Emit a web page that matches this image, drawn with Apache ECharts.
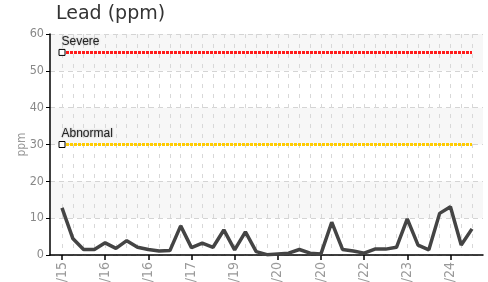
<!DOCTYPE html>
<html>
<head>
<meta charset="utf-8">
<script src="https://cdn.jsdelivr.net/npm/echarts@6/dist/echarts.min.js"></script>
<style>
  html, body { margin: 0; padding: 0; background: #fff; }
  #main { width: 488px; height: 282px; }
</style>
</head>
<body>
<div id="main"></div>
<script>
// sample dates (only the year end of each label is visible in the chart)
var dates = ['06/10/15', '09/14/15', '11/20/15', '01/18/16', '03/22/16', '06/15/16', '08/10/16', '10/05/16',
    '12/12/16', '02/14/17', '04/20/17', '07/11/17', '10/03/17', '02/15/18', '07/19/18', '12/04/18',
    '04/16/19', '08/27/19', '11/12/19', '01/21/20', '03/10/20', '06/02/20', '08/18/20', '10/13/20',
    '12/08/20', '03/16/21', '07/13/21', '11/09/21', '03/15/22', '07/12/22', '10/11/22', '01/17/23',
    '04/11/23', '07/18/23', '10/17/23', '01/16/24', '04/09/24', '07/16/24', '10/15/24'];
var lead = [12.8, 4.5, 1.5, 1.5, 3.3, 1.8, 3.9, 2.1, 1.5, 1.1, 1.2, 7.9, 2.0, 3.2, 2.1, 6.8,
    1.4, 6.3, 0.9, 0.1, 0.3, 0.5, 1.5, 0.5, 0.3, 8.9, 1.5, 1.1, 0.5, 1.6, 1.6, 2.1,
    9.8, 2.7, 1.4, 11.3, 13.1, 2.7, 7.1];
var severeLevel = 55;
var abnormalLevel = 30;
var yTicks = [0, 10, 20, 30, 40, 50, 60];

var dom = document.getElementById('main');
var myChart = echarts.init(dom);

function limitLine(name, level, color) {
    return {
        name: name,
        type: 'line',
        xAxisIndex: 1,
        yAxisIndex: 1,
        silent: true,
        showSymbol: true,
        z: 3,
        lineStyle: { color: color, width: 3, type: [3, 1] },
        data: [
            {
                value: [dates[0], level],
                symbol: 'rect',
                symbolSize: 6,
                itemStyle: { color: '#fff', borderColor: '#000', borderWidth: 1 },
                label: {
                    show: true,
                    formatter: name,
                    position: [3, -13],
                    align: 'left',
                    verticalAlign: 'top',
                    fontFamily: 'Liberation Sans',
                    fontSize: 12,
                    color: '#222',
                    textShadowColor: 'rgba(0,0,0,0.35)',
                    textShadowBlur: 2
                }
            },
            { value: [dates[dates.length - 1], level], symbol: 'none' }
        ]
    };
}

var option = {
    animation: false,
    backgroundColor: '#fff',
    title: {
        text: 'Lead (ppm)',
        left: 51,
        top: 0,
        textStyle: { fontFamily: 'DejaVu Sans', fontSize: 19, fontWeight: 'normal', color: '#333' }
    },
    grid: [
        { left: 50, right: 5, top: 34, bottom: 27, outerBoundsMode: 'none' },
        { left: 62, right: 16, top: 34, bottom: 27, outerBoundsMode: 'none' }
    ],
    xAxis: [
        {
            type: 'value',
            gridIndex: 0,
            min: 0,
            max: 1,
            axisLine: { show: true, lineStyle: { color: '#000', width: 1.5 } },
            axisTick: { show: false },
            axisLabel: { show: false },
            splitLine: { show: false }
        },
        {
            type: 'category',
            gridIndex: 1,
            data: dates,
            boundaryGap: false,
            axisLine: { show: false },
            axisTick: { show: true, interval: 3, length: 5, lineStyle: { color: '#000', width: 1.5 } },
            axisLabel: {
                interval: 3,
                rotate: 90,
                margin: 7,
                fontFamily: 'DejaVu Sans Condensed',
                fontSize: 14,
                color: '#999'
            },
            splitLine: { show: true, interval: 0, lineStyle: { color: '#d8d8d8', type: [4, 6] } }
        }
    ],
    yAxis: [
        {
            type: 'value',
            gridIndex: 0,
            min: yTicks[0],
            max: yTicks[yTicks.length - 1],
            interval: 10,
            name: 'ppm',
            nameLocation: 'middle',
            nameGap: 22,
            nameMoveOverlap: false,
            nameTextStyle: { fontFamily: 'DejaVu Sans Condensed', fontSize: 12, color: '#999' },
            axisLine: { show: true, lineStyle: { color: '#000', width: 1.5 } },
            axisTick: { show: true, length: 4, lineStyle: { color: '#000' } },
            axisLabel: { margin: 6, fontFamily: 'DejaVu Sans Condensed', fontSize: 12.5, color: '#888' },
            splitLine: { show: true, lineStyle: { color: '#d4d4d4', type: [5, 4] } },
            splitArea: { show: true, areaStyle: { color: ['rgba(255,255,255,0)', '#f7f7f7'] } }
        },
        {
            type: 'value',
            gridIndex: 1,
            min: 0,
            max: 60,
            show: false
        }
    ],
    series: [
        limitLine('Severe', severeLevel, '#ff1a1a'),
        limitLine('Abnormal', abnormalLevel, '#ffcc00'),
        {
            name: 'Lead',
            type: 'line',
            xAxisIndex: 1,
            yAxisIndex: 1,
            showSymbol: false,
            z: 4,
            lineStyle: { color: '#444', width: 3.5 },
            data: lead
        }
    ]
};
myChart.setOption(option);
</script>
</body>
</html>
